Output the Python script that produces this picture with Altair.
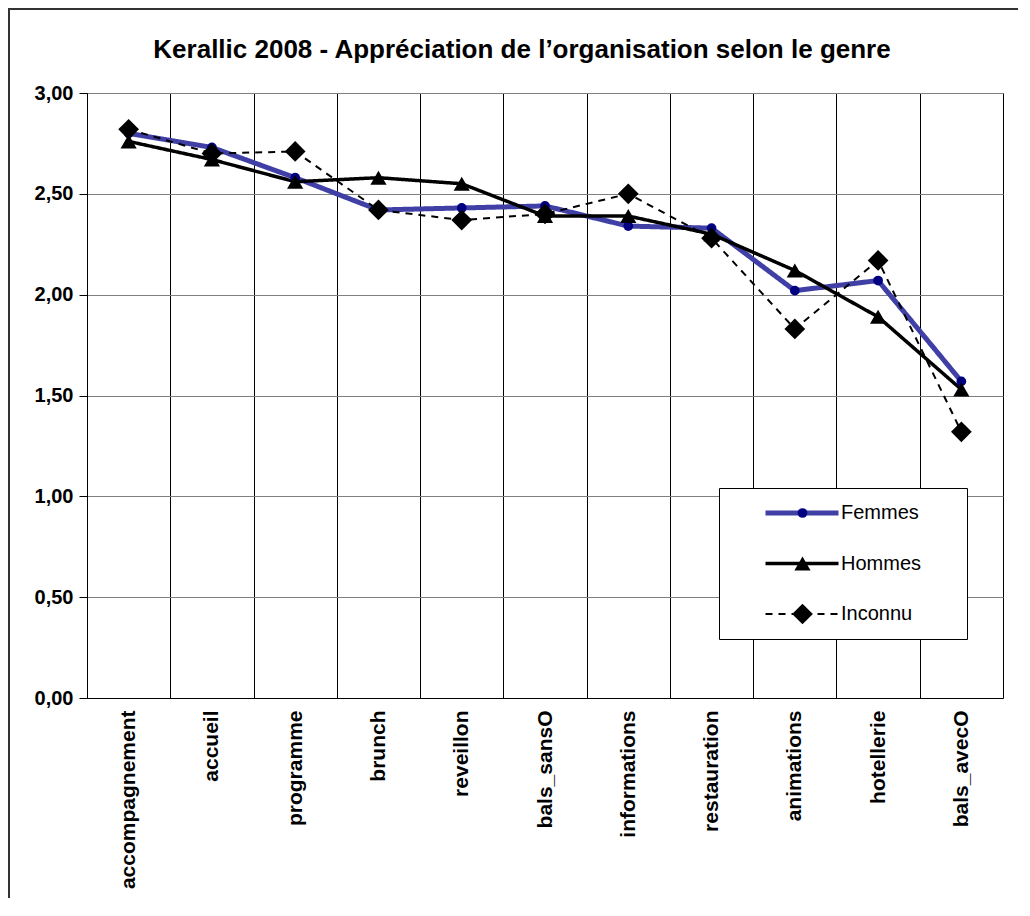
import altair as alt
import pandas as pd

categories = ['accompagnement', 'accueil', 'programme', 'brunch', 'reveillon',
              'bals_sansO', 'informations', 'restauration', 'animations',
              'hotellerie', 'bals_avecO']
series_names = ['Femmes', 'Hommes', 'Inconnu']
femmes = [2.80, 2.73, 2.58, 2.42, 2.43, 2.44, 2.34, 2.33, 2.02, 2.07, 1.57]
hommes = [2.76, 2.67, 2.56, 2.58, 2.55, 2.39, 2.39, 2.30, 2.12, 1.89, 1.53]
inconnu = [2.82, 2.70, 2.71, 2.42, 2.37, 2.40, 2.50, 2.28, 1.83, 2.17, 1.32]
y_ticks = [0, 0.5, 1, 1.5, 2, 2.5, 3]

rows = []
for name, vals in zip(series_names, [femmes, hommes, inconnu]):
    for c, v in zip(categories, vals):
        rows.append({'cat': c, 'serie': name, 'val': v})
df = pd.DataFrame(rows)

FONT = 'Liberation Sans'

x_enc = alt.X('cat:N', sort=categories,
              scale=alt.Scale(type='band', paddingInner=0, paddingOuter=0),
              axis=alt.Axis(title=None, labelAngle=-90, labelFont=FONT, labelFontSize=21,
                            labelFontWeight='bold', labelColor='black', labelPadding=12,
                            labelLimit=400, tickBand='extent', grid=True, gridColor='black',
                            gridWidth=1, ticks=False, domainColor='black', domainWidth=1))
y_enc = alt.Y('val:Q', scale=alt.Scale(domain=[0, 3], nice=False),
              axis=alt.Axis(title=None, values=y_ticks,
                            labelExpr="replace(format(datum.value, '.2f'), '.', ',')",
                            labelFont=FONT, labelFontSize=20, labelFontWeight='bold',
                            labelColor='black', labelPadding=6, grid=True, gridColor='#808080',
                            gridWidth=1, tickColor='black', tickSize=8, domainColor='black',
                            domainWidth=1))

common_leg = dict(orient='none', legendX=632, legendY=395, padding=5, clipHeight=40,
                  rowPadding=10.5, labelFont=FONT, labelFontSize=20, labelColor='black',
                  direction='vertical', title=' ', titleOrient='right', titleFontSize=20)

leg1 = alt.Legend(symbolOffset=39, symbolSize=5329, symbolType='stroke', labelOffset=0,
                  titlePadding=41, strokeColor='black', fillColor='white', zindex=0,
                  **common_leg)
leg2 = alt.Legend(symbolOffset=67, labelOffset=0, labelExpr="''", titlePadding=0,
                  zindex=1, **common_leg)

lines = alt.Chart(df).mark_line().encode(
    x=x_enc, y=y_enc,
    color=alt.Color('serie:N', scale=alt.Scale(domain=series_names,
                                               range=['#3F3FA6', 'black', 'black']), legend=leg1),
    strokeDash=alt.StrokeDash('serie:N', scale=alt.Scale(domain=series_names,
                                                         range=[[1, 0], [1, 0], [7, 6]]), legend=leg1),
    strokeWidth=alt.StrokeWidth('serie:N', scale=alt.Scale(domain=series_names,
                                                           range=[5, 2, 2.5]), legend=leg1),
)

points = alt.Chart(df).mark_point(filled=True, opacity=1).encode(
    x=x_enc, y=y_enc,
    color=alt.Color('serie:N', scale=alt.Scale(domain=series_names,
                                               range=['#000080', 'black', 'black']), legend=leg2),
    shape=alt.Shape('serie:N', scale=alt.Scale(domain=series_names,
                                               range=['circle', 'triangle-up', 'diamond']), legend=leg2),
    size=alt.Size('serie:N', scale=alt.Scale(domain=series_names,
                                             range=[95, 430, 100]), legend=leg2),
)

frame = alt.Chart(pd.DataFrame({'k': [0]})).mark_rect(
    fill=None, stroke='#333333', strokeWidth=2, clip=False
).encode(x=alt.value(-78), y=alt.value(-84), x2=alt.value(1100), y2=alt.value(1100))

chart = alt.layer(lines, points, frame).resolve_scale(
    color='independent', shape='independent', size='independent',
    strokeDash='independent', strokeWidth='independent'
).properties(
    width=916, height=605,
    padding={'left': 79, 'top': 85, 'right': 15, 'bottom': 200},
    autosize=alt.AutoSizeParams(type='none'),
    background='white',
    title=alt.Title("Kerallic 2008 - Appréciation de l’organisation selon le genre",
                    font=FONT, fontSize=26, fontWeight='bold', color='black',
                    anchor='middle', frame='group', dx=-23, offset=0, dy=76,
                    baseline='alphabetic'),
).configure_view(stroke='#808080', strokeWidth=1)

chart.save("out.html", embed_options={"renderer": "svg", "actions": False})
